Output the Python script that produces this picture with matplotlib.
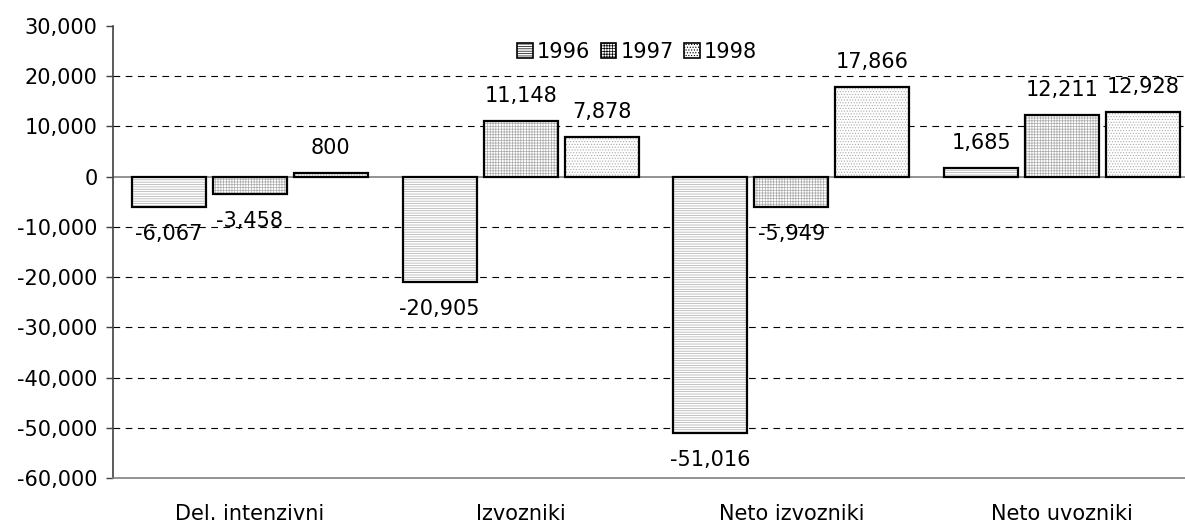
import matplotlib
matplotlib.use("Agg")
import matplotlib.pyplot as plt
import numpy as np
from matplotlib.patches import Patch
from matplotlib.ticker import FuncFormatter

categories = ["Del. intenzivni", "Izvozniki", "Neto izvozniki", "Neto uvozniki"]
years = ["1996", "1997", "1998"]
v1996 = [-6067, -20905, -51016, 1685]
v1997 = [-3458, 11148, -5949, 12211]
v1998 = [800, 7878, 17866, 12928]
series = [v1996, v1997, v1998]
hatches = ["-------", "++++++", "......"]

plt.rcParams["font.family"] = ["DejaVu Sans"]
plt.rcParams["hatch.linewidth"] = 0.5
FS = 15

fig = plt.figure(figsize=(11.85, 5.26), dpi=100)
ax = fig.add_axes([113/1185, 48/526, 1072/1185, 452/526])

x = np.arange(len(categories))
step = 0.299
width = 0.273
for i, (vals, h) in enumerate(zip(series, hatches)):
    pos = x + (i - 1) * step
    ax.bar(pos, vals, width, color="white", edgecolor="#ababab", hatch=h, linewidth=0, zorder=3)
    ax.bar(pos, vals, width, fill=False, edgecolor="black", linewidth=1.6, zorder=4)
    for px, v in zip(pos, vals):
        off = 25 if v >= 0 else -27
        ax.annotate(f"{v:,}", (px, v), xytext=(0, off), textcoords="offset pixels",
                    ha="center", va="center", fontsize=FS, zorder=5)

ax.set_ylim(-60000, 30000)
ax.set_xlim(-0.506, 3.454)
ax.set_yticks(np.arange(-60000, 30001, 10000))
ax.yaxis.set_major_formatter(FuncFormatter(lambda v, p: f"{int(v):,}"))
for yv in range(-50000, 20001, 10000):
    if yv != 0:
        ax.axhline(yv, color="black", linestyle=(0, (6, 5)), linewidth=0.8, zorder=1)
ax.axhline(0, color="#808080", linewidth=1.2, zorder=2)

ax.set_xticks(x)
ax.set_xticklabels(categories, fontsize=FS)
ax.tick_params(axis="x", length=0, pad=19)
ax.tick_params(axis="y", labelsize=FS, length=5, direction="out", color="#404040", width=1, pad=6)
for s in ["top", "right"]:
    ax.spines[s].set_visible(False)
ax.spines["left"].set_color("#404040")
ax.spines["left"].set_linewidth(1.2)
ax.spines["bottom"].set_color("#808080")
ax.spines["bottom"].set_linewidth(1.2)

handles = [Patch(facecolor="white", edgecolor="black", hatch=h, linewidth=1.2) for h in hatches]
ax.legend(handles, years, loc="center", bbox_to_anchor=(637/1185, 1 - 52/526), bbox_transform=fig.transFigure,
          ncol=3, frameon=False, fontsize=FS, handlelength=0.75, handleheight=0.75,
          handletextpad=0.2, columnspacing=0.5, borderpad=0.1)

fig.savefig("out.png", dpi=100)
